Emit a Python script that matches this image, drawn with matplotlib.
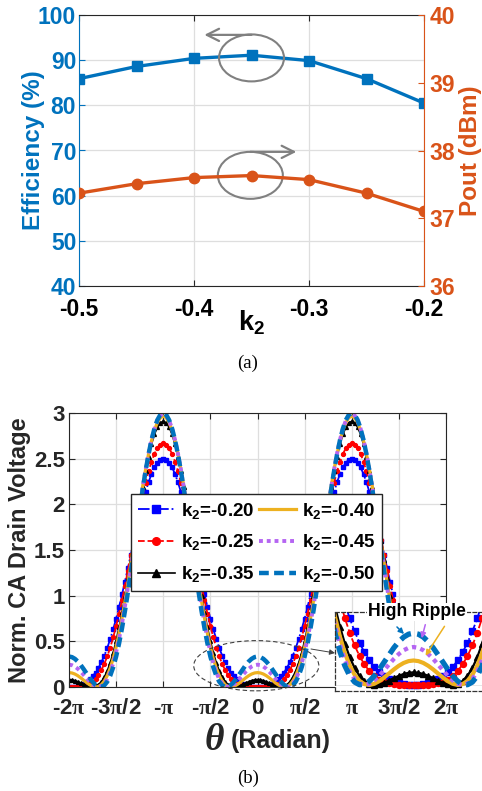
import numpy as np
import matplotlib
matplotlib.use('Agg')
import matplotlib.pyplot as plt
from matplotlib.patches import Ellipse
from matplotlib.lines import Line2D

plt.rcParams['font.family'] = ['Liberation Sans', 'DejaVu Sans']
plt.rcParams['font.weight'] = 'bold'
plt.rcParams['axes.unicode_minus'] = False
plt.rcParams['mathtext.fontset'] = 'custom'
plt.rcParams['mathtext.rm'] = 'Liberation Serif'
plt.rcParams['mathtext.it'] = 'Liberation Serif:italic'
plt.rcParams['mathtext.bf'] = 'Liberation Sans:bold'

# ---------------- data: (a) efficiency / output power vs k2 ----------------
k2_sweep = [-0.50, -0.45, -0.40, -0.35, -0.30, -0.25, -0.20]
efficiency = [85.9, 88.6, 90.4, 91.1, 89.9, 85.9, 80.5]
pout_dbm = [37.37, 37.51, 37.60, 37.63, 37.57, 37.37, 37.10]
a_xticks = [-0.5, -0.4, -0.3, -0.2]
a_xticklabels = ['-0.5', '-0.4', '-0.3', '-0.2']
a_eff_ticks = [40, 50, 60, 70, 80, 90, 100]
a_pout_ticks = [36, 37, 38, 39, 40]

# ---------------- data: (b) normalized drain voltage waveforms ----------------
# v(theta) = 1 - a1 * (cos(theta) + k2 * cos(2 theta)); a1 read from the peaks
wave_k2 = [-0.20, -0.25, -0.35, -0.40, -0.45, -0.50]
wave_fund = [1.250, 1.333, 1.414, 1.404, 1.374, 1.333]
wave_labels = [r'$\mathbf{k_2}$=-0.20', r'$\mathbf{k_2}$=-0.25', r'$\mathbf{k_2}$=-0.35',
               r'$\mathbf{k_2}$=-0.40', r'$\mathbf{k_2}$=-0.45', r'$\mathbf{k_2}$=-0.50']
b_xticks = [-2 * np.pi, -1.5 * np.pi, -np.pi, -0.5 * np.pi, 0, 0.5 * np.pi, np.pi, 1.5 * np.pi, 2 * np.pi]
PI = r'$\mathrm{\pi}$'
b_xticklabels = ['-2' + PI, '-3' + PI + '/2', '-' + PI, '-' + PI + '/2', '0',
                 PI + '/2', PI, '3' + PI + '/2', '2' + PI]
b_yticks = [0, 0.5, 1, 1.5, 2, 2.5, 3]
b_yticklabels = ['0', '0.5', '1', '1.5', '2', '2.5', '3']

BLUE = '#0072BD'
ORANGE = '#D95319'
DARK = '#262626'
GRID = '#dedede'

W, H = 482, 791
fig = plt.figure(figsize=(W / 100, H / 100), dpi=100)


def fx(px):
    return px / W


def fy(py):
    return 1 - py / H


# ======================= (a) =======================
ax1 = fig.add_axes([fx(79), fy(286), (424 - 79) / W, (286 - 15) / H])
ax1.plot(k2_sweep, efficiency, color=BLUE, lw=2.4, marker='s', ms=6.8, zorder=3)
ax1.set_xlim(-0.5, -0.2)
ax1.set_ylim(40, 100)
ax1.set_yticks(a_eff_ticks)
ax1.set_xticks(a_xticks)
ax1.set_xticklabels(a_xticklabels)
ax1.grid(True, color=GRID, lw=0.9)
ax1.set_axisbelow(True)
ax1.tick_params(axis='y', colors=BLUE, direction='in', labelsize=16.5, length=4, pad=2)
ax1.tick_params(axis='x', colors=DARK, labelcolor='black', direction='in', labelsize=16.5,
                length=4, top=True, pad=9)
ax1.spines['left'].set_color(BLUE)
ax1.spines['right'].set_visible(False)
ax1.spines['top'].set_color(DARK)
ax1.spines['bottom'].set_color(DARK)

ax2 = ax1.twinx()
ax2.plot(k2_sweep, pout_dbm, color=ORANGE, lw=2.4, marker='o', ms=7.5, zorder=3)
ax2.set_ylim(36, 40)
ax2.set_yticks(a_pout_ticks)
ax2.tick_params(axis='y', colors=ORANGE, direction='in', labelsize=16.5, length=4, pad=4)
for s in ['left', 'top', 'bottom']:
    ax2.spines[s].set_visible(False)
ax2.spines['right'].set_color(ORANGE)

# ellipses + arrows
GRAY = '#808080'
ax1.add_patch(Ellipse((-0.35, 90.5), 0.0565, 10.4, fill=False, edgecolor=GRAY, lw=1.5, zorder=4))
ax1.add_patch(Ellipse((-0.351, 64.5), 0.0565, 10.4, fill=False, edgecolor=GRAY, lw=1.5, zorder=4))
ax1.annotate('', xy=(-0.391, 95.6), xytext=(-0.35, 95.6),
             arrowprops=dict(arrowstyle='->', color=GRAY, lw=1.6, mutation_scale=22, shrinkA=0, shrinkB=0))
ax1.annotate('', xy=(-0.311, 69.7), xytext=(-0.351, 69.7),
             arrowprops=dict(arrowstyle='->', color=GRAY, lw=1.6, mutation_scale=22, shrinkA=0, shrinkB=0))

fig.text(fx(34), fy(150), 'Efficiency (%)', rotation=90, ha='center', va='center',
         color=BLUE, fontsize=17.5, fontweight='bold')
fig.text(fx(471), fy(151), 'Pout (dBm)', rotation=90, ha='center', va='center',
         color=ORANGE, fontsize=17.5, fontweight='bold')
fig.text(fx(252), fy(323), r'$\mathbf{k_2}$', ha='center', va='center', fontsize=19.5, color='black')
fig.text(fx(248), fy(363), '(a)', ha='center', va='center', fontsize=13.5,
         family='Liberation Serif', fontweight='normal')

# ======================= (b) =======================
theta = np.linspace(-2 * np.pi, 2 * np.pi, 129)
styles = [
    dict(color='#0000FF', ls='-.', lw=1.3, marker='s', ms=2.6),
    dict(color='#FF0000', ls='--', lw=1.3, marker='o', ms=2.8),
    dict(color='#000000', ls='-', lw=1.2, marker='^', ms=2.8),
    dict(color='#EDB120', ls='-', lw=2.3),
    dict(color='#B565F2', ls=(0, (1, 1)), lw=2.8),
    dict(color=BLUE, ls=(0, (2.2, 1.2)), lw=3.2),
]

axb = fig.add_axes([fx(69), fy(687), (446 - 69) / W, (687 - 413) / H])
for k2, a1, st in zip(wave_k2, wave_fund, styles):
    v = 1 - a1 * (np.cos(theta) + k2 * np.cos(2 * theta))
    axb.plot(theta, v, **st)
axb.set_xlim(-2 * np.pi, 2 * np.pi)
axb.set_ylim(0, 3)
axb.set_xticks(b_xticks)
axb.set_xticklabels(b_xticklabels)
axb.set_yticks(b_yticks)
axb.set_yticklabels(b_yticklabels)
axb.grid(True, color=GRID, lw=0.9)
axb.set_axisbelow(True)
axb.tick_params(axis='both', colors=DARK, direction='in', labelsize=16, length=4,
                top=True, right=True)
axb.tick_params(axis='x', pad=8)
axb.tick_params(axis='y', pad=3)
for s in axb.spines.values():
    s.set_color(DARK)

handles = []
for lab, st in zip(wave_labels, styles):
    hs = dict(st)
    if 'ms' in hs:
        hs['ms'] = 5.5
    handles.append(Line2D([], [], label=lab, **hs))
leg = axb.legend(handles=handles, ncol=2, loc='center', bbox_to_anchor=(0.4975, 0.5275),
                 fontsize=13.5, frameon=True, fancybox=False, framealpha=1, edgecolor=DARK,
                 handlelength=2.0, handletextpad=0.3, columnspacing=0.25, labelspacing=0.62,
                 borderpad=0.35, borderaxespad=0, numpoints=1)
leg.get_frame().set_linewidth(1.0)

# dashed ellipse + arrow to inset
axb.add_patch(Ellipse((-0.04, 0.233), 4.17, 0.55, fill=False, edgecolor='#404040', lw=0.8,
                      ls=(0, (4, 2.5)), clip_on=False, zorder=5))
axb.annotate('', xy=(fx(335), fy(653)), xycoords='figure fraction',
             xytext=(fx(311), fy(649)), textcoords='figure fraction',
             arrowprops=dict(arrowstyle='-|>', color='#404040', lw=0.7, mutation_scale=8,
                             shrinkA=0, shrinkB=0), annotation_clip=False)

# inset (zoom of the region around theta = 0)
axi = fig.add_axes([fx(335), fy(691), 157 / W, (691 - 612) / H])
inset_scale = [1.0, 1.0, 1.4, 1.3, 1.1, 1.2]
for k2, a1, st, sc in zip(wave_k2, wave_fund, styles, inset_scale):
    v = 1 - a1 * (np.cos(theta) + k2 * np.cos(2 * theta))
    hs = dict(st)
    hs['lw'] = hs['lw'] * sc
    if 'ms' in hs:
        hs['ms'] = 4.3
    axi.plot(theta, v, **hs)
axi.set_xlim(-np.pi / 2, np.pi / 2)
axi.set_ylim(-0.039, 0.47)
axi.set_xticks([0])
axi.set_yticks([0])
axi.tick_params(length=0, labelleft=False, labelbottom=False)
axi.grid(True, color='#e6e6e6', lw=0.7)
for s in axi.spines.values():
    s.set_linestyle((0, (3, 2)))
    s.set_linewidth(0.9)
    s.set_color('#333333')

fig.text(fx(417), fy(612), 'High Ripple', ha='center', va='center', fontsize=12.7,
         fontweight='bold', color='black',
         bbox=dict(facecolor='white', edgecolor='none', pad=0.5), zorder=10)
for (x0, y0, x1, y1, c) in [(395, 625, 406, 636, BLUE), (426, 622, 421, 641, '#B565F2'),
                            (446, 624, 424, 658, '#EDB120')]:
    fig.add_artist(matplotlib.patches.FancyArrowPatch(
        (fx(x0), fy(y0)), (fx(x1), fy(y1)), transform=fig.transFigure,
        arrowstyle='-|>', mutation_scale=8, color=c, lw=1.1, zorder=11))

fig.text(fx(20), fy(550), 'Norm. CA Drain Voltage', rotation=90, ha='center', va='center',
         fontsize=17, fontweight='bold', color=DARK)
fig.text(fx(214), fy(740), r'$\theta$', ha='center', va='center', fontsize=27, color=DARK)
fig.text(fx(281), fy(741), '(Radian)', ha='center', va='center', fontsize=18,
         fontweight='bold', color=DARK)
fig.text(fx(248), fy(778), '(b)', ha='center', va='center', fontsize=13.5,
         family='Liberation Serif', fontweight='normal')

fig.savefig('out.png', dpi=100)
